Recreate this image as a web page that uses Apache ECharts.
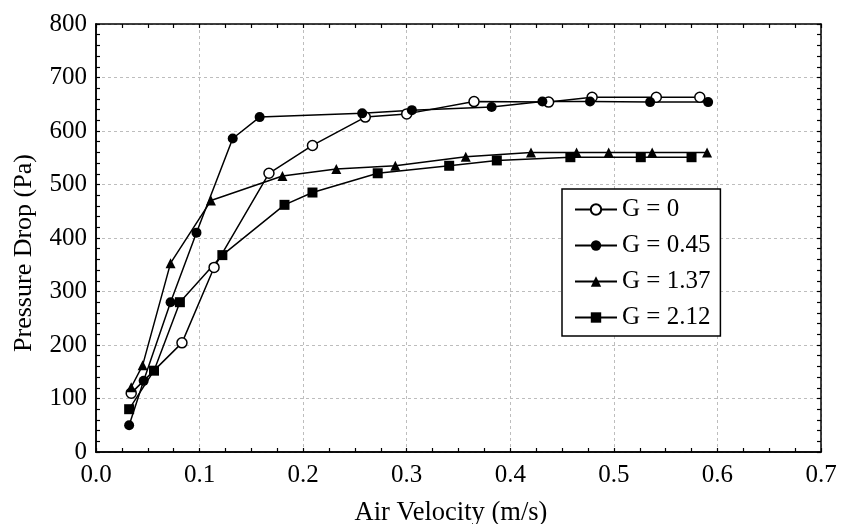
<!DOCTYPE html>
<html>
<head>
<meta charset="utf-8">
<script src="https://cdn.jsdelivr.net/npm/echarts@6/dist/echarts.min.js"></script>
<style>
html,body{margin:0;padding:0;background:#fff;}
#c{width:841px;height:524px;}
</style>
</head>
<body>
<div id="c"></div>
<script>
var seriesNames = ['G = 0', 'G = 0.45', 'G = 1.37', 'G = 2.12'];

var g0 = [[0.034,110],[0.083,204],[0.114,345],[0.167,521],[0.209,573],[0.260,626],[0.300,632],[0.365,655],[0.437,654],[0.479,663],[0.541,663],[0.583,663]];
var g045 = [[0.032,50],[0.046,133],[0.072,280],[0.097,410],[0.132,586],[0.158,626],[0.257,633],[0.305,639],[0.382,645],[0.431,655],[0.477,655],[0.535,654],[0.591,654]];
var g137 = [[0.034,121],[0.045,162],[0.072,353],[0.111,470],[0.180,516],[0.232,529],[0.289,535],[0.357,552],[0.420,560],[0.464,560],[0.495,560],[0.537,560],[0.590,560]];
var g212 = [[0.032,80],[0.056,152],[0.081,280],[0.122,368],[0.182,462],[0.209,485],[0.272,521],[0.341,535],[0.387,545],[0.458,551],[0.526,551],[0.575,551]];

var xTicks = ['0.0','0.1','0.2','0.3','0.4','0.5','0.6','0.7'];

var FONT = 'Liberation Serif';
var chart = echarts.init(document.getElementById('c'));

var axisLine = {show:true, onZero:false, lineStyle:{color:'#000', width:1.5}};
var tick = {show:true, inside:true, length:4, lineStyle:{color:'#000', width:1.2}};
var grid = {show:true, lineStyle:{color:'#bdbdbd', type:[3,3], width:1}};

function tickX(pos) {
  return {type:'value', min:0, max:0.7, interval:0.025, position:pos,
    axisLine: axisLine, axisTick: tick, splitLine:{show:false}, axisLabel:{show:false}};
}
function tickY(pos) {
  return {type:'value', min:0, max:800, interval:20, position:pos,
    axisLine: axisLine, axisTick: tick, splitLine:{show:false}, axisLabel:{show:false}};
}

function mk(name, data, symbol, size, fill) {
  return {
    name: name, type: 'line', data: data,
    symbol: symbol, symbolSize: size,
    lineStyle: {color:'#000', width:1.5},
    itemStyle: {color: fill, borderColor:'#000', borderWidth: fill === '#fff' ? 1.5 : 0},
    z: 3
  };
}

chart.setOption({
  animation: false,
  backgroundColor: '#fff',
  grid: {left: 96, right: 20, top: 24, bottom: 72, containLabel: false, outerBoundsMode: 'none'},
  textStyle: {fontFamily: FONT},
  xAxis: [{
    type: 'value', min: 0, max: 0.7, interval: 0.1, position: 'bottom',
    axisLine: axisLine, axisTick: {show:false},
    splitLine: grid,
    axisLabel: {color:'#000', fontFamily: FONT, fontSize: 25, margin: 11,
      formatter: function(v){ return xTicks[Math.round(v*10)]; }},
    name: 'Air Velocity (m/s)', nameLocation: 'middle', nameGap: 48,
    nameTextStyle: {color:'#000', fontFamily: FONT, fontSize: 26.5, padding:[0,15,0,0]}
  }, tickX('bottom'), tickX('top')],
  yAxis: [{
    type: 'value', min: 0, max: 800, interval: 100, position: 'left',
    axisLine: axisLine, axisTick: {show:false},
    splitLine: grid,
    axisLabel: {color:'#000', fontFamily: FONT, fontSize: 25, margin: 9},
    name: 'Pressure Drop (Pa)', nameLocation: 'middle', nameGap: 59,
    nameTextStyle: {color:'#000', fontFamily: FONT, fontSize: 26, padding:[0,30,0,0]}
  }, tickY('left'), tickY('right')],
  legend: {
    data: seriesNames, orient: 'vertical', left: 562, top: 189,
    itemWidth: 42, itemHeight: 13, itemGap: 11,
    padding: [8, 10, 6, 12],
    borderColor: '#000', borderWidth: 1.5, backgroundColor: '#fff',
    textStyle: {color:'#000', fontFamily: FONT, fontSize: 25}
  },
  series: [
    mk(seriesNames[0], g0, 'circle', 10, '#fff'),
    mk(seriesNames[1], g045, 'circle', 10, '#000'),
    mk(seriesNames[2], g137, 'triangle', 10, '#000'),
    mk(seriesNames[3], g212, 'rect', 10, '#000')
  ]
});
</script>
</body>
</html>
